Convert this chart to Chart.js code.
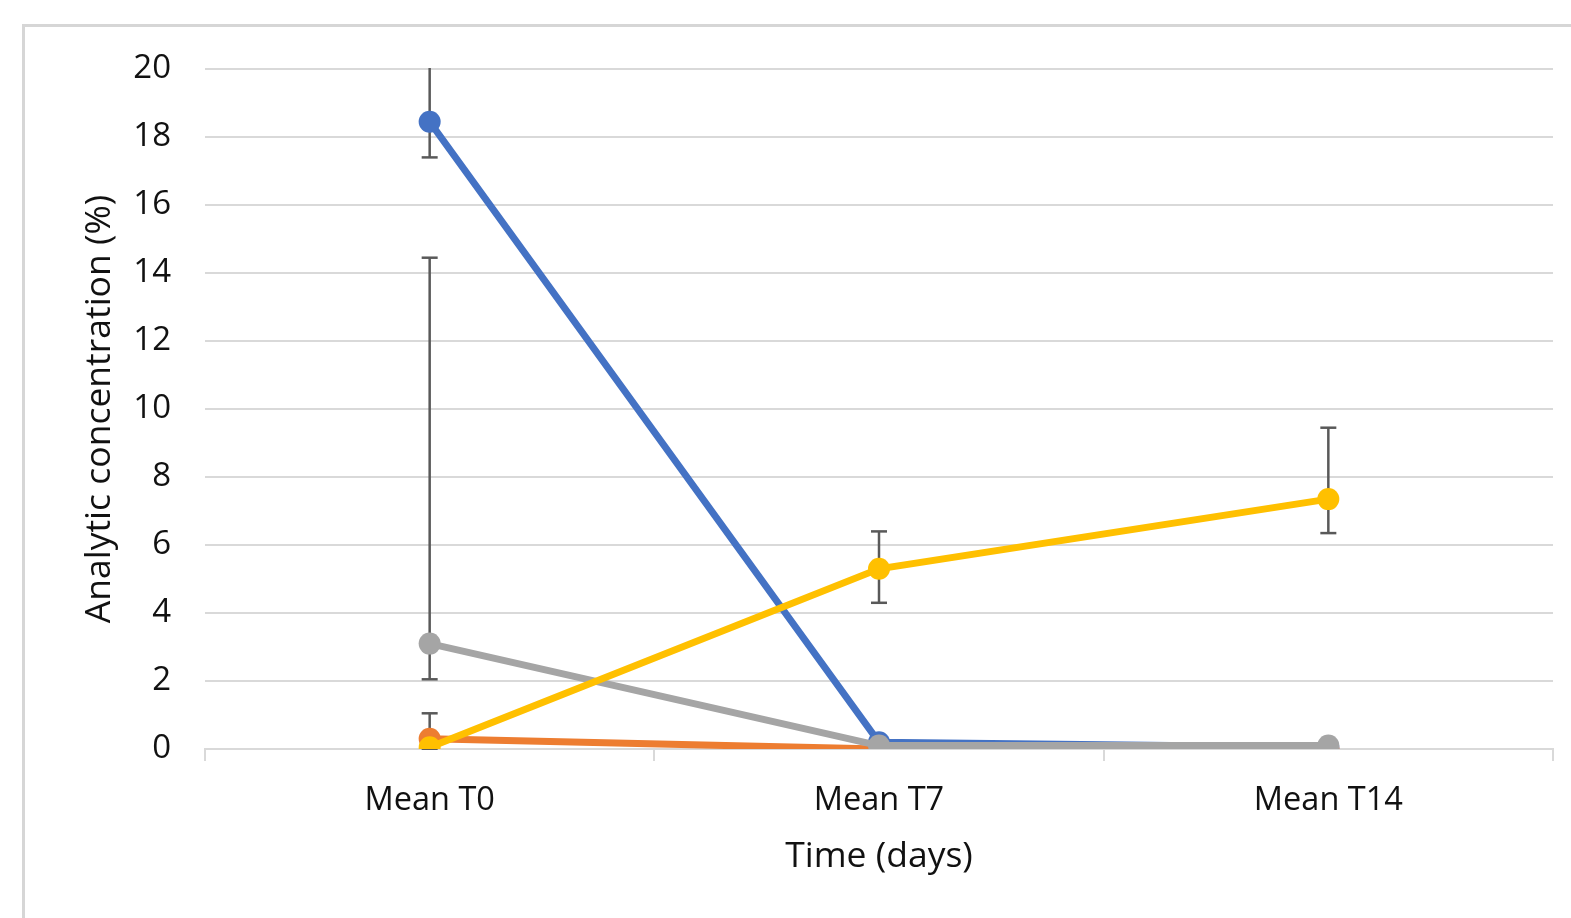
<!DOCTYPE html>
<html>
<head>
<meta charset="utf-8">
<script src="https://cdn.jsdelivr.net/npm/chart.js@4/dist/chart.umd.min.js"></script>
<style>
  html, body { margin: 0; padding: 0; background: #ffffff; }
  #wrap { position: relative; width: 1571px; height: 918px; }
</style>
</head>
<body>
<div id="wrap"><canvas id="chart" width="1571" height="918"></canvas></div>
<script>
// Time points
const categories = ['Mean T0', 'Mean T7', 'Mean T14'];

// Mean analyte concentration (%) per series
const blueValues   = [18.45, 0.2, 0.05];
const orangeValues = [0.3, 0.0, 0.0];
const grayValues   = [3.1, 0.1, 0.1];
const yellowValues = [0.05, 5.3, 7.35];

// Error bar ends (low / high); null = no bar drawn
const blueErrLow    = [17.4, null, null];
const blueErrHigh   = [21.0, null, null];
const orangeErrLow  = [0.0, null, null];
const orangeErrHigh = [1.05, null, null];
const grayErrLow    = [2.05, null, null];
const grayErrHigh   = [14.45, null, null];
const yellowErrLow  = [null, 4.3, 6.35];
const yellowErrHigh = [null, 6.4, 9.45];

// Y axis ticks
const yTicks = [0, 2, 4, 6, 8, 10, 12, 14, 16, 18, 20];

const FONT = "'Open Sans', 'DejaVu Sans', sans-serif";
const GRID = '#d9d9d9';
const TEXT = '#111111';

// Later series are painted over earlier ones (lower order = drawn on top)
function series(label, data, color, low, high, order) {
  return {
    label, data, order,
    borderColor: color, backgroundColor: color,
    borderWidth: 7, pointRadius: 11, pointHoverRadius: 11,
    pointBorderWidth: 0, pointBackgroundColor: color,
    tension: 0, errLow: low, errHigh: high
  };
}

// Light frame around the plot
const framePlugin = {
  id: 'frame',
  beforeDraw(chart) {
    const ctx = chart.ctx;
    ctx.save();
    ctx.fillStyle = '#ffffff';
    ctx.fillRect(0, 0, chart.width, chart.height);
    ctx.fillStyle = '#d6d6d6';
    ctx.fillRect(22, 24, chart.width - 22, 3);
    ctx.fillRect(22, 24, 3, chart.height - 24);
    ctx.restore();
  }
};

// Vertical error bars with caps, computed through the y scale
const errorBarPlugin = {
  id: 'errorBars',
  beforeDatasetsDraw(chart) {
    const ctx = chart.ctx;
    const y = chart.scales.y;
    const area = chart.chartArea;
    ctx.save();
    ctx.beginPath();
    ctx.rect(area.left, area.top - 1, area.right - area.left, area.bottom - area.top + 2);
    ctx.clip();
    ctx.strokeStyle = '#595959';
    ctx.lineWidth = 2.5;
    chart.data.datasets.forEach((ds, di) => {
      const meta = chart.getDatasetMeta(di);
      ds.data.forEach((v, i) => {
        const lo = ds.errLow[i], hi = ds.errHigh[i];
        if (lo === null || hi === null) return;
        const px = meta.data[i].x;
        const yLo = y.getPixelForValue(lo);
        const yHi = y.getPixelForValue(hi);
        ctx.beginPath();
        ctx.moveTo(px, yLo);
        ctx.lineTo(px, yHi);
        ctx.stroke();
        [[lo, yLo], [hi, yHi]].forEach(([val, py]) => {
          if (val > y.max || val < y.min) return;
          ctx.beginPath();
          ctx.moveTo(px - 8, py);
          ctx.lineTo(px + 8, py);
          ctx.stroke();
        });
      });
    });
    ctx.restore();
  }
};

new Chart(document.getElementById('chart'), {
  type: 'line',
  data: {
    labels: categories,
    datasets: [
      series('Series 1', blueValues, '#4472C4', blueErrLow, blueErrHigh, 3),
      series('Series 2', orangeValues, '#ED7D31', orangeErrLow, orangeErrHigh, 2),
      series('Series 3', grayValues, '#A5A5A5', grayErrLow, grayErrHigh, 1),
      series('Series 4', yellowValues, '#FFC000', yellowErrLow, yellowErrHigh, 0)
    ]
  },
  options: {
    responsive: false,
    animation: false,
    events: [],
    layout: { padding: { left: 0, right: 18, top: 69, bottom: 0 } },
    plugins: { legend: { display: false }, tooltip: { enabled: false } },
    scales: {
      x: {
        offset: true,
        grid: {
          offset: true, drawOnChartArea: false, drawTicks: true,
          tickLength: 12, color: GRID, lineWidth: 2
        },
        border: { display: true, color: GRID, width: 2 },
        ticks: { color: TEXT, font: { family: FONT, size: 32.5 }, padding: 20, maxRotation: 0 },
        title: {
          display: true, text: 'Time (days)', color: TEXT,
          font: { family: FONT, size: 35.5 }, padding: { top: 0, bottom: 40 }
        },
        afterFit(scale) { scale.height = 169; }
      },
      y: {
        min: 0, max: 20,
        afterBuildTicks(scale) { scale.ticks = yTicks.map(v => ({ value: v })); },
        grid: { color: GRID, lineWidth: 2, drawTicks: false },
        border: { display: false },
        ticks: { color: TEXT, font: { family: FONT, size: 33 }, padding: 34 },
        title: {
          display: true, text: 'Analytic concentration (%)', color: TEXT,
          font: { family: FONT, size: 35.5 }, padding: { top: 79, bottom: 0 }
        },
        afterFit(scale) { scale.width = 205; }
      }
    }
  },
  plugins: [framePlugin, errorBarPlugin]
});
</script>
</body>
</html>
